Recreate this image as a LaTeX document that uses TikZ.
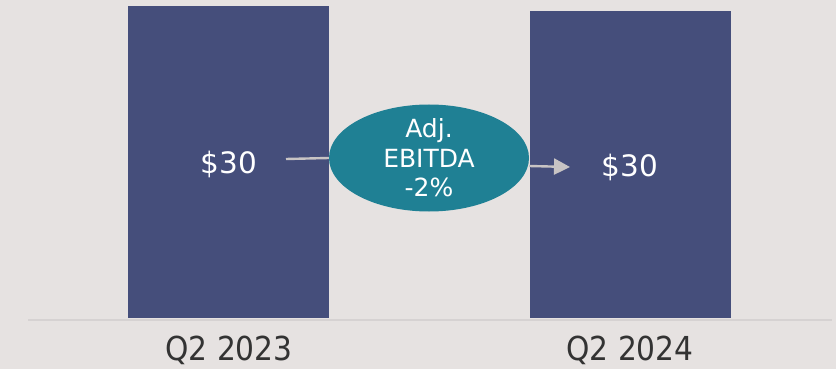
\documentclass[tikz,border=0pt]{standalone}
\usepackage{fontspec}
\setmainfont{DejaVu Sans}
\newfontfamily\condfont{DejaVu Sans Condensed}
\usetikzlibrary{shapes.geometric,arrows.meta}
\definecolor{bgc}{HTML}{E6E2E1}
\definecolor{barc}{HTML}{454E7B}
\definecolor{tealc}{HTML}{1F8094}
\definecolor{arrc}{HTML}{C8C4C4}
\definecolor{basec}{HTML}{D6D2D2}
\definecolor{labc}{HTML}{333333}
\tikzset{
  bar/.style={fill=barc, draw=none},
  val/.style={text=white, font=\fontsize{29.5}{32}\selectfont},
  axlab/.style={text=labc, font=\condfont\fontsize{33}{36}\selectfont},
  conn/.style={draw=arrc, line width=2.4pt},
}
\begin{document}
\begin{tikzpicture}[x=1pt,y=-1pt]
\fill[bgc] (0,0) rectangle (836,369);
\useasboundingbox (0,0) rectangle (836,369);
\draw[basec, line width=1.5pt] (28,320) -- (832,320);
\fill[bar] (128,6) rectangle (329,318);
\fill[bar] (530,11) rectangle (731,318);
\node[val] (v1) at (229,164) {\$30};
\node[val] (v2) at (630,167) {\$30};
\node[ellipse, fill=tealc, minimum width=200pt, minimum height=107pt, inner sep=0pt] (e) at (429,158) {};
\node[text=white, align=center, inner sep=0pt, font=\fontsize{25}{29.5}\selectfont] (et) at (e.center) {Adj.\\EBITDA\\-2\%};
\coordinate (a1) at (286,159);
\coordinate (a2) at (570,167);
\draw[conn] (a1) -- (e.west);
\draw[conn, -{Triangle[length=16pt,width=16pt]}] (e.east) ++(0,8) coordinate (es) (es) -- (a2);
\node[axlab] (l1) at (229,350) {Q2 2023};
\node[axlab] (l2) at (630,350) {Q2 2024};
\end{tikzpicture}
\end{document}
